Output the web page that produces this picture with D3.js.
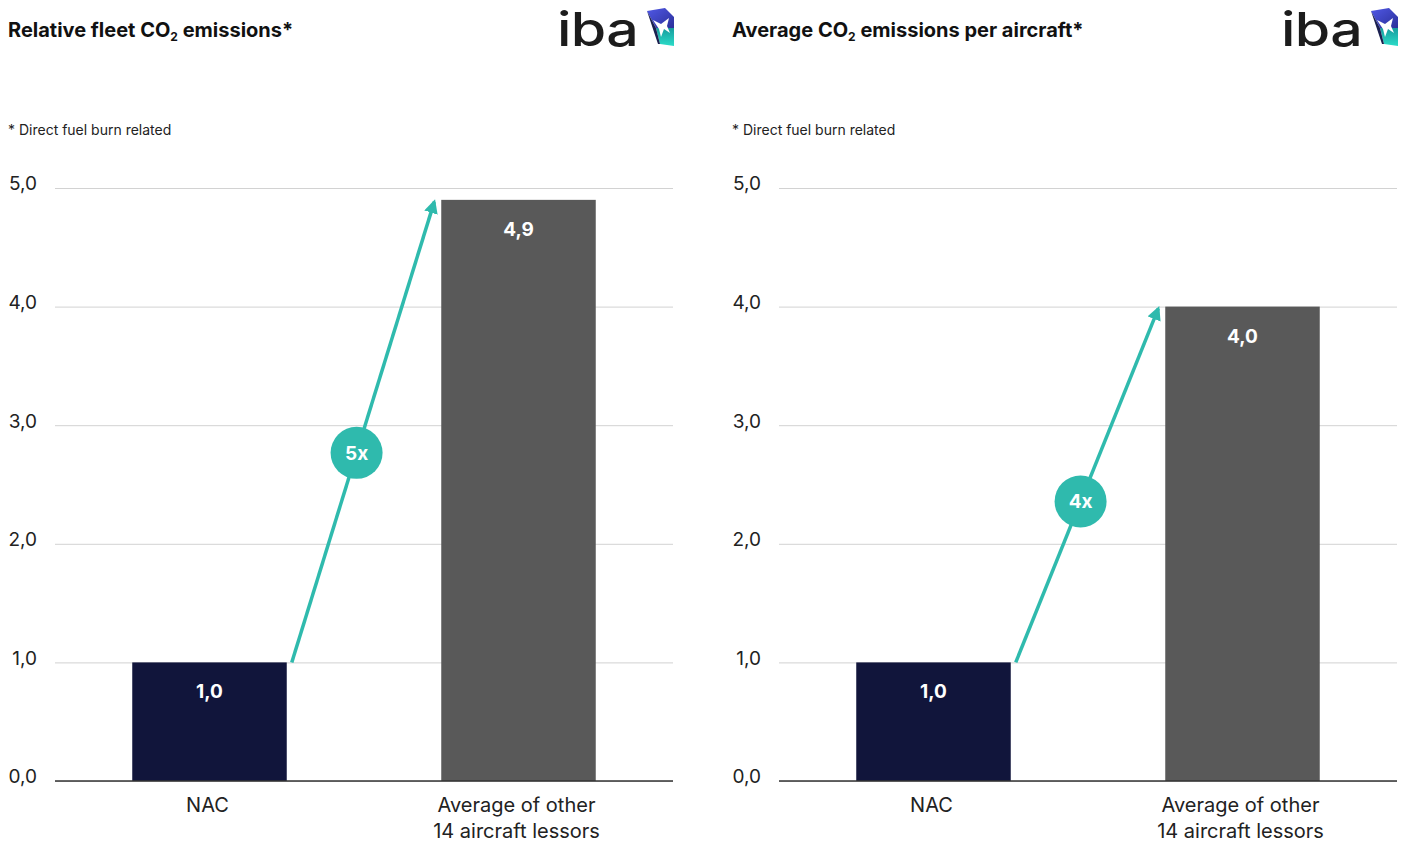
<!DOCTYPE html>
<html>
<head>
<meta charset="utf-8">
<script src="https://cdn.jsdelivr.net/npm/d3@7"></script>
<style>
  body { margin: 0; background: #fff; }
  svg { display: block; font-family: Inter, "Noto Sans", sans-serif; }
</style>
</head>
<body>
<div id="chart"></div>
<script>
// data
var categories = ["NAC", "Average of other\n14 aircraft lessors"];
var fleetValues = [1.0, 4.9];
var perAircraftValues = [1.0, 4.0];
var yTicks = [0, 1, 2, 3, 4, 5];
var panelTitles = [["Relative fleet CO", "2", " emissions*"], ["Average CO", "2", " emissions per aircraft*"]];
var multipliers = ["5x", "4x"];
var footnote = "* Direct fuel burn related";

var width = 1402, height = 842;
var barColors = ["#11153b", "#595959"];
var teal = "#2fbaad";

var svg = d3.select("#chart").append("svg")
  .attr("width", width)
  .attr("height", height);

var defs = svg.append("defs");
defs.append("marker")
  .attr("id", "arrowhead")
  .attr("viewBox", "0 0 10 10")
  .attr("refX", 8).attr("refY", 5)
  .attr("markerWidth", 4).attr("markerHeight", 4)
  .attr("markerUnits", "strokeWidth")
  .attr("orient", "auto")
  .append("path")
  .attr("d", "M0,0 L10,5 L0,10 z")
  .attr("fill", teal);

var grad = defs.append("linearGradient")
  .attr("id", "logoTop").attr("x1", 0).attr("y1", 0).attr("x2", 1).attr("y2", 1);
grad.append("stop").attr("offset", "0%").attr("stop-color", "#5058e6");
grad.append("stop").attr("offset", "100%").attr("stop-color", "#2b309a");
var grad2 = defs.append("linearGradient")
  .attr("id", "logoBot").attr("x1", 0).attr("y1", 0).attr("x2", 0).attr("y2", 1);
grad2.append("stop").attr("offset", "0%").attr("stop-color", "#179c9e");
grad2.append("stop").attr("offset", "100%").attr("stop-color", "#2bdcc8");

var fmt = function (v) { return d3.format(".1f")(v).replace(".", ","); };

function drawLogo(g) {
  var logo = g.append("g").attr("transform", "translate(557,0)");
  // wordmark, stretched a bit wider like the brand letters
  logo.append("text")
    .attr("transform", "translate(0,46) scale(1.22,1)")
    .style("font-size", "47px")
    .style("font-weight", 500)
    .style("letter-spacing", "-0.5px")
    .style("fill", "#1c1c1c")
    .text("iba");
  // icon (local coords, origin at x=557)
  logo.append("path")
    .attr("d", "M90,11 L108,8 L117,17 L117,28 L99,28 Z")
    .attr("fill", "url(#logoTop)");
  logo.append("path")
    .attr("d", "M99,28 L117,28 L117,46 L103,44 Z")
    .attr("fill", "url(#logoBot)");
  logo.append("path")
    .attr("d", "M90,11 L99,28 L103,44 L101,44 Z")
    .attr("fill", "#1b2050");
  logo.append("path")
    .attr("d", "M96,20 L104,24 L112,18 L110,26 L113,33 L107,29 L104,37 L102,29 Z")
    .attr("fill", "#fff");
}

function drawPanel(offsetX, values, title, mult) {
  var g = svg.append("g").attr("transform", "translate(" + offsetX + ",0)");
  var left = 55, right = 673, top = 188, bottom = 781;

  var x = d3.scaleBand()
    .domain(categories)
    .range([left, right])
    .paddingInner(0.5)
    .paddingOuter(0.25);
  var y = d3.scaleLinear()
    .domain([0, 5])
    .range([bottom, top]);

  // title
  var t = g.append("text")
    .attr("x", 8).attr("y", 37)
    .style("font-size", "20px")
    .style("font-weight", 700)
    .style("fill", "#111");
  t.append("tspan").text(title[0]);
  t.append("tspan").attr("dy", 4).style("font-size", "12px").text(title[1]);
  t.append("tspan").attr("dy", -4).text(title[2]);

  drawLogo(g);

  // footnote
  g.append("text")
    .attr("x", 8).attr("y", 135)
    .style("font-size", "14px")
    .style("fill", "#222")
    .text(footnote);

  // gridlines + ticks
  var axis = d3.axisLeft(y)
    .tickValues(yTicks)
    .tickSize(-(right - left))
    .tickPadding(18)
    .tickFormat(fmt);
  var ag = g.append("g")
    .attr("transform", "translate(" + left + ",0)")
    .call(axis);
  ag.select(".domain").remove();
  ag.selectAll(".tick line")
    .attr("stroke", "#d2d2d2")
    .attr("stroke-width", 1);
  ag.selectAll(".tick text")
    .attr("dy", "0.1em")
    .style("font-size", "19px")
    .style("font-family", "Inter, 'Noto Sans', sans-serif")
    .style("fill", "#222");

  // bars
  g.selectAll(".bar")
    .data(values)
    .enter().append("rect")
    .attr("class", "bar")
    .attr("x", function (d, i) { return x(categories[i]); })
    .attr("y", function (d) { return y(d); })
    .attr("width", x.bandwidth())
    .attr("height", function (d) { return y(0) - y(d); })
    .attr("fill", function (d, i) { return barColors[i]; });

  // baseline
  g.append("line")
    .attr("x1", left).attr("x2", right)
    .attr("y1", y(0)).attr("y2", y(0))
    .attr("stroke", "#333")
    .attr("stroke-width", 1.5);

  // value labels
  g.selectAll(".val")
    .data(values)
    .enter().append("text")
    .attr("class", "val")
    .attr("x", function (d, i) { return x(categories[i]) + x.bandwidth() / 2; })
    .attr("y", function (d) { return y(d) + 36; })
    .attr("text-anchor", "middle")
    .style("font-size", "19px")
    .style("font-weight", 700)
    .style("fill", "#fff")
    .text(fmt);

  // category labels
  var cl = g.selectAll(".cat")
    .data(categories)
    .enter().append("text")
    .attr("class", "cat")
    .attr("text-anchor", "middle")
    .style("font-size", "20px")
    .style("fill", "#222");
  cl.each(function (d) {
    var el = d3.select(this);
    d.split("\n").forEach(function (line, k) {
      el.append("tspan")
        .attr("x", x(d) + x.bandwidth() / 2 - 2)
        .attr("y", 812 + k * 26)
        .text(line);
    });
  });

  // arrow
  var x0 = x(categories[0]) + x.bandwidth() + 5, y0 = y(values[0]);
  var x1 = x(categories[1]) - 7, y1 = y(values[1]) + 2;
  g.append("line")
    .attr("x1", x0).attr("y1", y0)
    .attr("x2", x1).attr("y2", y1)
    .attr("stroke", teal)
    .attr("stroke-width", 3.5)
    .attr("marker-end", "url(#arrowhead)");

  var tb = 0.455;
  var cx = x0 + (x1 - x0) * tb, cy = y0 + (y1 - y0) * tb;
  g.append("circle")
    .attr("cx", cx).attr("cy", cy)
    .attr("r", 26)
    .attr("fill", teal);
  g.append("text")
    .attr("x", cx).attr("y", cy + 7)
    .attr("text-anchor", "middle")
    .style("font-size", "19px")
    .style("font-weight", 700)
    .style("fill", "#fff")
    .text(mult);
}

drawPanel(0, fleetValues, panelTitles[0], multipliers[0]);
drawPanel(724, perAircraftValues, panelTitles[1], multipliers[1]);
</script>
</body>
</html>
